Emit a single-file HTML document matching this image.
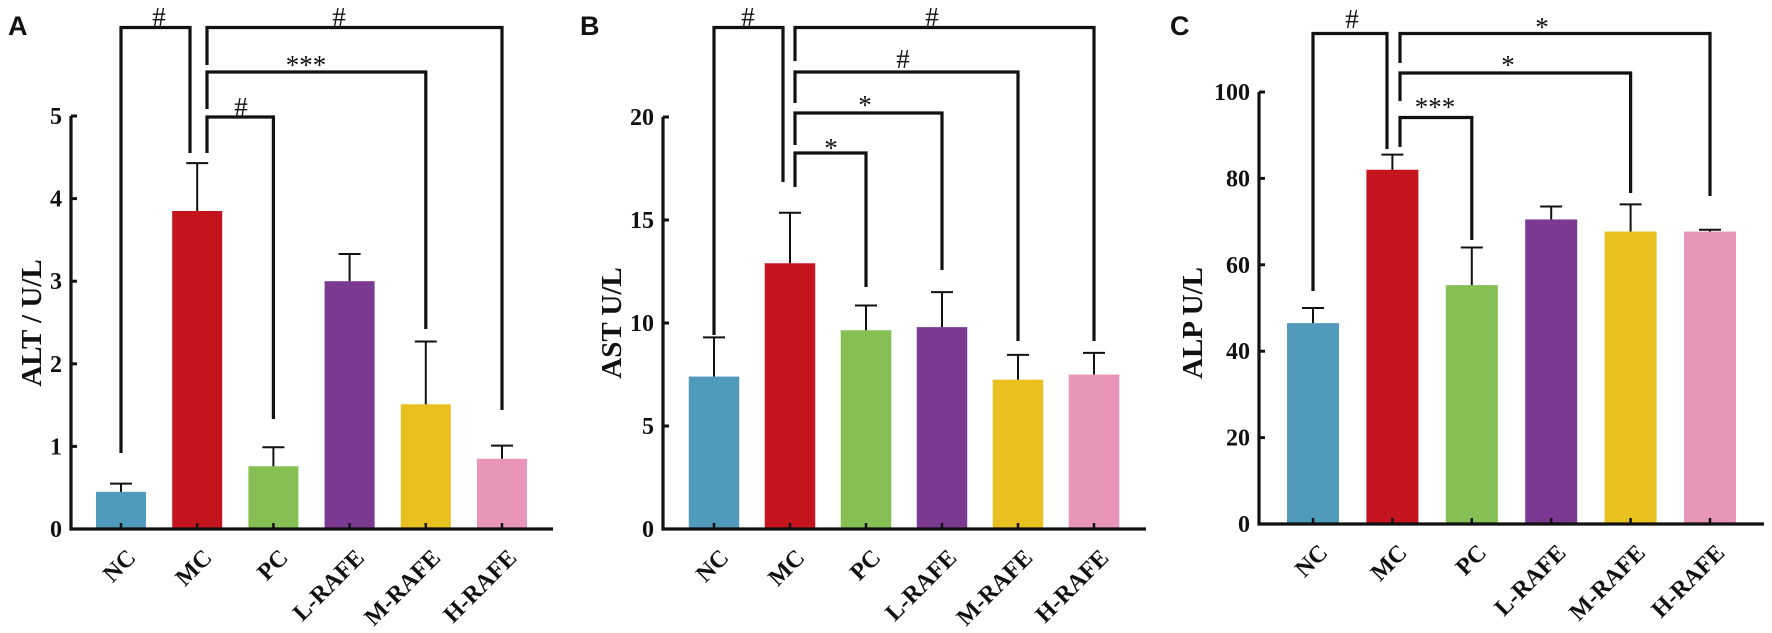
<!DOCTYPE html>
<html><head><meta charset="utf-8"><style>
body{margin:0;background:#fff}
svg{display:block}
text{font-family:"Liberation Serif",serif;font-weight:bold;fill:#111}
</style></head><body>
<svg id="fig" width="1772" height="633" viewBox="0 0 1772 633"></svg>
<script>
const categories = ["NC","MC","PC","L-RAFE","M-RAFE","H-RAFE"];
const colors = ["#509bbb","#c4151f","#86c055","#7c3991","#e8c01f","#e895b9"];
const altValues = [0.45,3.85,0.76,3.0,1.51,0.85];
const altErrors = [0.10,0.58,0.23,0.33,0.76,0.16];
const altTicks = [0,1,2,3,4,5];
const astValues = [7.4,12.9,9.65,9.8,7.25,7.5];
const astErrors = [1.9,2.45,1.2,1.7,1.2,1.05];
const astTicks = [0,5,10,15,20];
const alpValues = [46.5,82,55.3,70.5,67.7,67.7];
const alpErrors = [3.5,3.5,8.7,3.0,6.3,0.4];
const alpTicks = [0,20,40,60,80,100];
const altSig = ["#","#","***","#"];
const astSig = ["#","#","#","*","*"];
const alpSig = ["#","*","*","***"];

const NS="http://www.w3.org/2000/svg";
const svg=document.getElementById('fig');
function mk(tag,attrs,parent){const e=document.createElementNS(NS,tag);for(const k in attrs)e.setAttribute(k,attrs[k]);(parent||svg).appendChild(e);return e;}

const panels=[
 {id:'alt',letter:'A',lx:8,values:altValues,errors:altErrors,ticks:altTicks,ymax:5,title:'ALT / U/L',tx:31,
  ax:71,axEnd:553,y0:529,yTop:116,x0:121,dx:76.2,bw:50,sig:altSig,
  brackets:[
   {a:0,b:1,y:27.5,la:453,lbx:190,lb:153,lab:0,lx:159,ly:16},
   {a:1,b:5,y:27.5,stem:65,rb:410,lab:1,lx:339,ly:16},
   {a:1,b:4,y:72,stem:109,rb:329,lab:2,lx:306,ly:64},
   {a:1,b:2,y:117,stem:153,rb:419,lab:3,lx:241,ly:106}],sx:207},
 {id:'ast',letter:'B',lx:580,values:astValues,errors:astErrors,ticks:astTicks,ymax:20,title:'AST U/L',tx:611,
  ax:663,axEnd:1146,y0:529,yTop:117,x0:714,dx:76,bw:50.5,sig:astSig,
  brackets:[
   {a:0,b:1,y:27.5,la:335,lbx:783,lb:182,lab:0,lx:748,ly:16},
   {a:1,b:5,y:27.5,stem:61,rb:341,lab:1,lx:932,ly:16},
   {a:1,b:4,y:72,stem:103,rb:341,lab:2,lx:903,ly:58},
   {a:1,b:3,y:113,stem:145,rb:270,lab:3,lx:865,ly:104},
   {a:1,b:2,y:153,stem:187,rb:287,lab:4,lx:831,ly:147}],sx:795},
 {id:'alp',letter:'C',lx:1170,values:alpValues,errors:alpErrors,ticks:alpTicks,ymax:100,title:'ALP U/L',tx:1192,
  ax:1259,axEnd:1764,y0:524,yTop:92,x0:1313,dx:79.4,bw:52,sig:alpSig,
  brackets:[
   {a:0,b:1,y:33.5,la:291,lbx:1387,lb:149,lab:0,lx:1352,ly:18},
   {a:1,b:5,y:33.5,stem:63,rb:196,lab:1,lx:1542,ly:26},
   {a:1,b:4,y:73,stem:101,rb:193,lab:2,lx:1508,ly:64},
   {a:1,b:2,y:117.5,stem:147,rb:240,lab:3,lx:1435,ly:106}],sx:1400}
];

panels.forEach(p=>{
  const g=mk('g',{});
  
  
  const yS=v=>p.y0-(v/p.ymax)*(p.y0-p.yTop);
  const xS=i=>p.x0+i*p.dx;
  const L=mk('text',{x:p.lx,y:35,'font-size':27,style:'font-family:"Liberation Sans",sans-serif;font-weight:bold'},g);
  L.textContent=p.letter;
  
  
  p.values.forEach((v,i)=>{
    const r=mk('rect',{x:xS(i)-p.bw/2,y:yS(v),width:p.bw,height:p.y0-yS(v),fill:colors[i]},g);
    
    
    const top=yS(v+p.errors[i]);
    const eb=mk('path',{d:`M${xS(i)} ${yS(v)}V${top}M${xS(i)-11} ${top}H${xS(i)+11}`,stroke:'#111','stroke-width':2,fill:'none'},g);
    
    
  });
  const ax=mk('path',{d:`M${p.ax} ${p.yTop}V${p.y0}H${p.axEnd}`,stroke:'#111','stroke-width':3.2,fill:'none'},g);
  
  
  p.ticks.forEach(t=>{
    const y=yS(t);
    mk('line',{x1:p.ax,x2:p.ax+6,y1:y,y2:y,stroke:'#111','stroke-width':3},g);
    const tl=mk('text',{x:p.ax-9,y:y+8,'font-size':24,'text-anchor':'end'},g);
    tl.textContent=t;
    
    
  });
  categories.forEach((c,i)=>{
    mk('line',{x1:xS(i),x2:xS(i),y1:p.y0,y2:p.y0-6,stroke:'#111','stroke-width':2.5},g);
    const cl=mk('text',{x:0,y:0,'font-size':24,'text-anchor':'end',transform:`translate(${xS(i)+16},${p.y0+30}) rotate(-45)`},g);
    cl.textContent=c;
    
    
  });
  const yt=mk('text',{x:0,y:0,'font-size':29,'text-anchor':'middle',transform:`translate(${p.tx+10},323) rotate(-90)`},g);
  yt.textContent=p.title;
  
  
  p.brackets.forEach(b=>{
    let d;
    if(b.la!==undefined){
      d=`M${xS(b.a)} ${b.la}V${b.y}H${b.lbx}V${b.lb}`;
    } else {
      d=`M${p.sx} ${b.stem}V${b.y}H${xS(b.b)}V${b.rb}`;
    }
    const br=mk('path',{d:d,stroke:'#111','stroke-width':3.2,fill:'none'},g);
    
    
    const s=mk('text',{x:b.lx,y:b.ly+10,'font-size':27,'text-anchor':'middle',style:'font-weight:normal'},g);
    s.textContent=p.sig[b.lab];
    
    
  });
});
</script>
</body></html>
